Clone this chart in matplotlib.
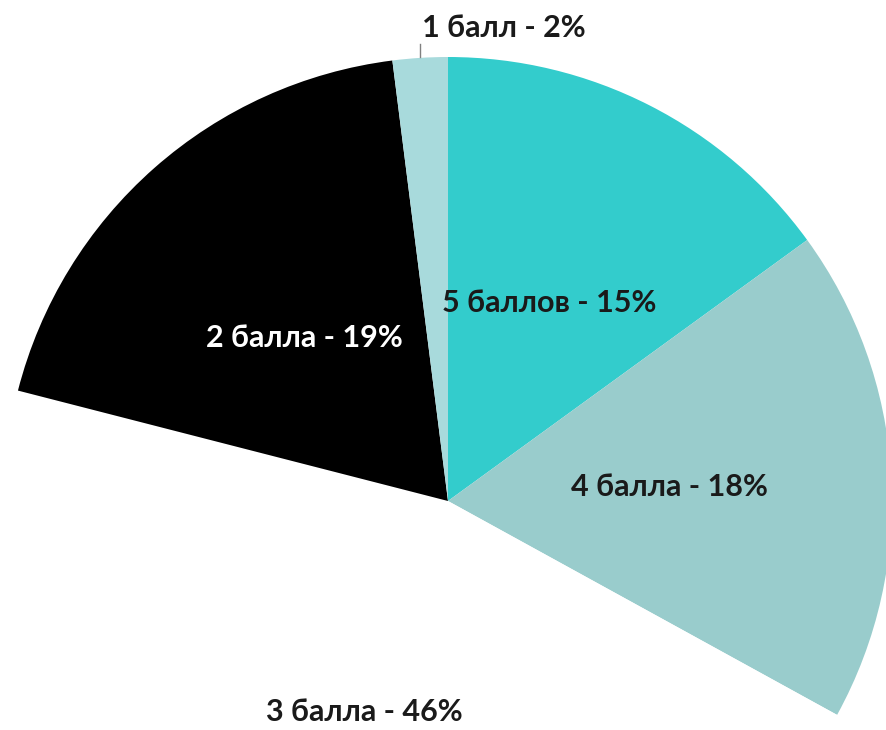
import numpy as np
import matplotlib.pyplot as plt

# распределение оценок, по часовой стрелке от 12 часов
labels = ['5 баллов', '4 балла', '3 балла', '2 балла', '1 балл']
shares = [15, 18, 46, 19, 2]
colors = ['#33CCCC', '#99CCCC', '#FFFFFF', '#000000', '#A8DADC']
text_colors = ['#1A1A1A', '#1A1A1A', '#1A1A1A', '#FFFFFF', '#1A1A1A']

plt.rcParams['font.family'] = ['Lato', 'DejaVu Sans']
FS = 22

fig = plt.figure(figsize=(8.86, 7.3), dpi=100)
ax = fig.add_axes([0, 0, 1, 1])

wedges, _ = ax.pie(shares, colors=colors, startangle=90, counterclock=False,
                   radius=1.0, wedgeprops=dict(linewidth=0))

# подписи на середине радиуса каждого сектора
label_r = [0.5, 0.5, 0.51, 0.49, None]
for w, lab, s, r, tc in zip(wedges, labels, shares, label_r, text_colors):
    mid = np.deg2rad((w.theta1 + w.theta2) / 2)
    txt = f'{lab} - {s}%'
    if r is None:
        # маленький сектор: подпись снаружи с выноской
        x = np.cos(mid)
        ax.plot([x, x], [1.0, 1.03], color='#808080', lw=1)
        ax.text(0.125, 1.065, txt, ha='center', va='center',
                fontsize=FS, fontweight='bold', color=tc)
    else:
        ax.text(r * np.cos(mid), r * np.sin(mid), txt, ha='center',
                va='center', fontsize=FS, fontweight='bold', color=tc)

ax.set_xlim(-448 / 444, (886 - 448) / 444)
ax.set_ylim((501 - 730) / 444, 501 / 444)
ax.set_aspect('auto')
ax.axis('off')

fig.savefig('out.png', dpi=100, facecolor='white')
